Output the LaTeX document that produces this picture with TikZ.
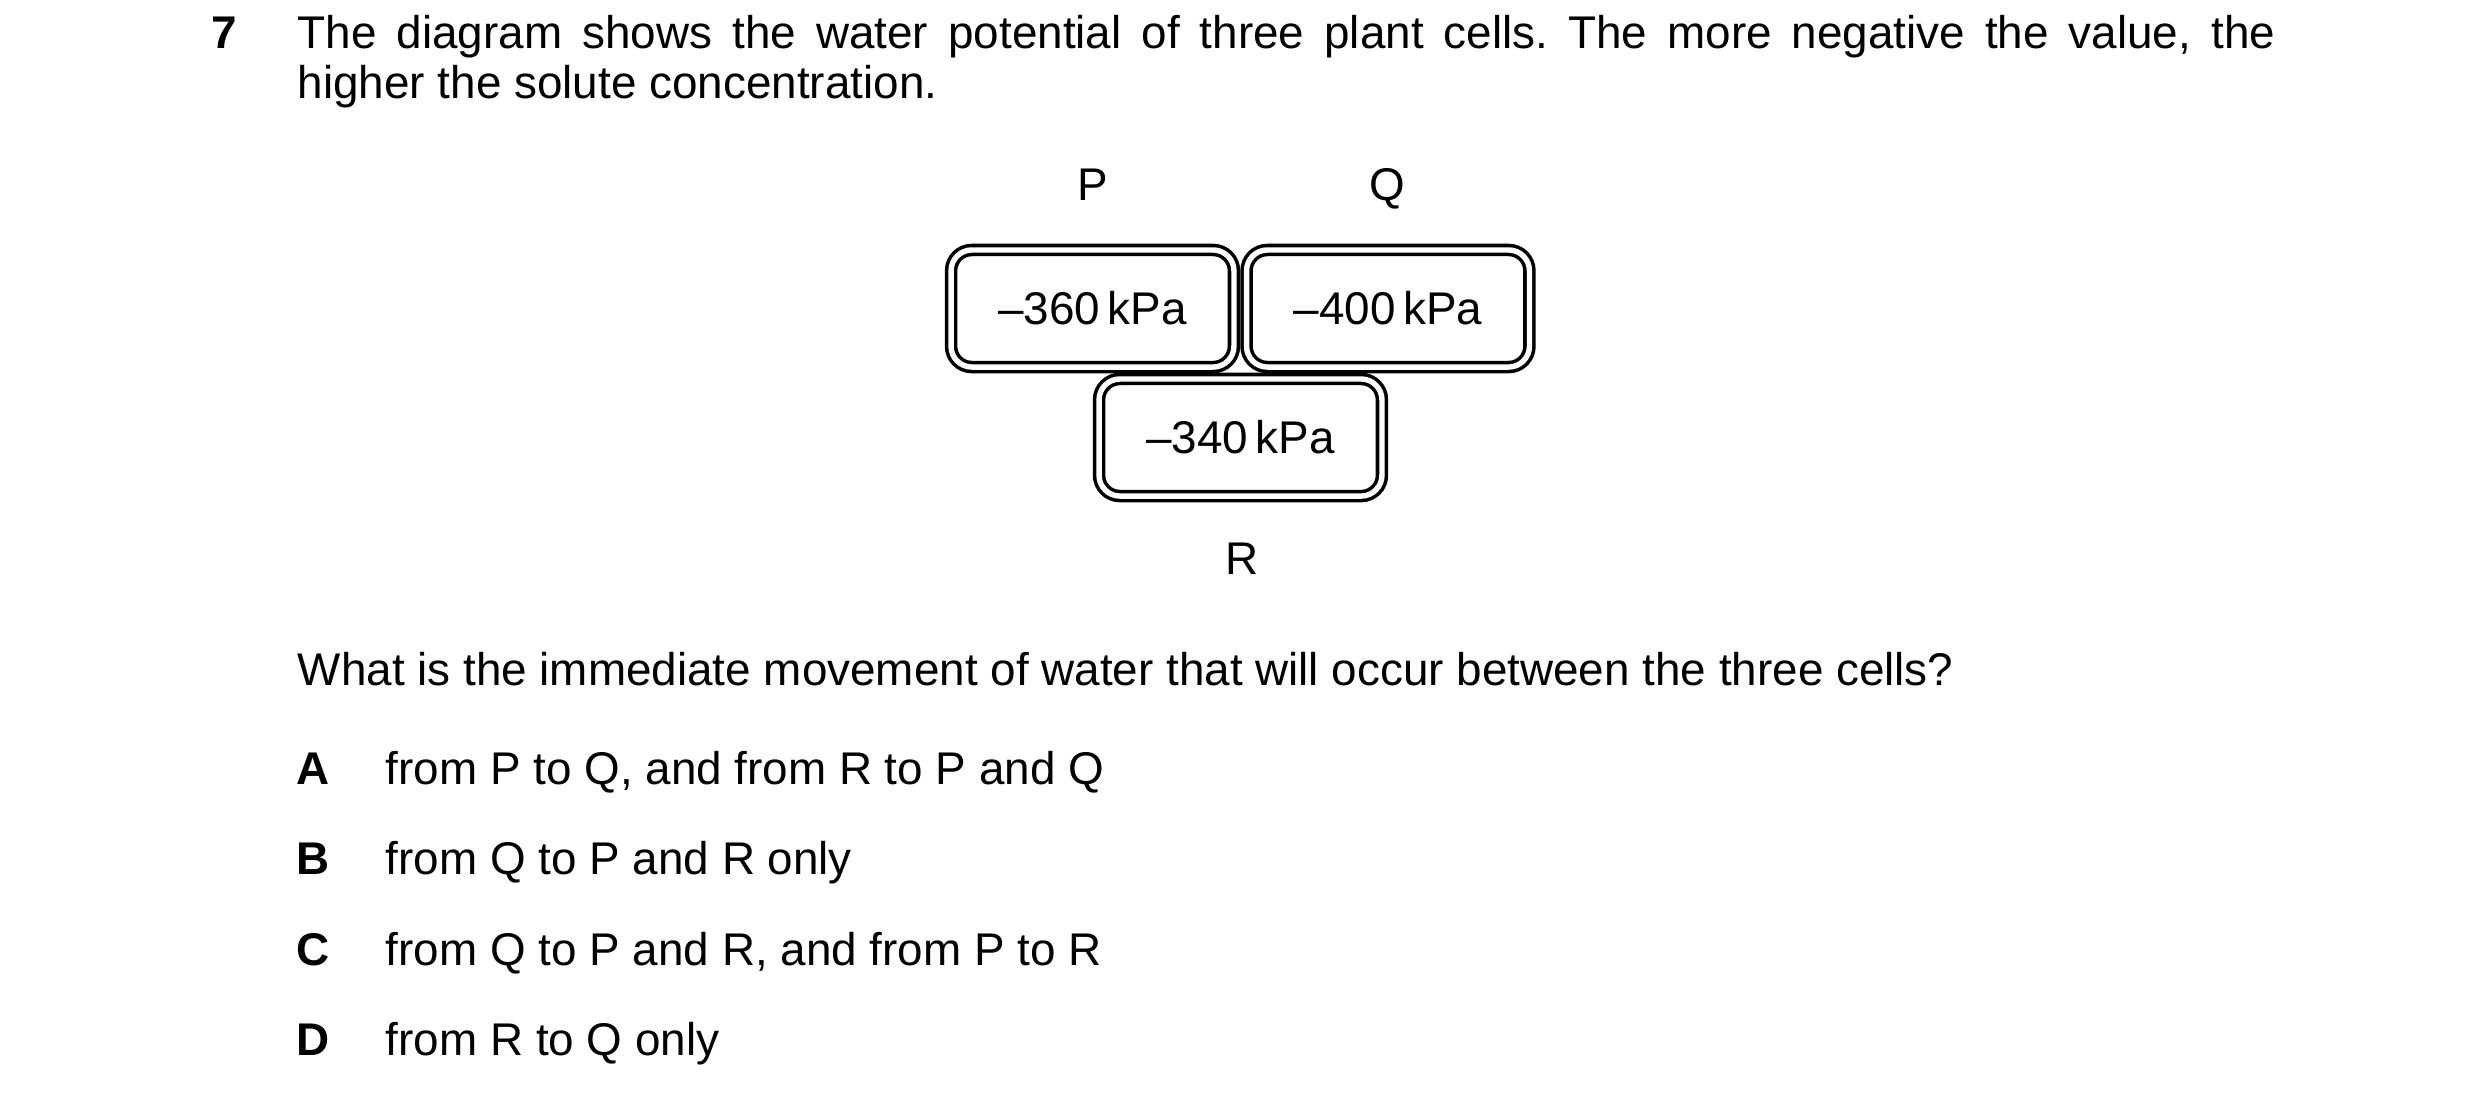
\documentclass[tikz,border=0pt]{standalone}
\usepackage{fontspec}
\setmainfont{Liberation Sans}
\newcommand\qsize{\fontsize{11pt}{12.5pt}\selectfont\frenchspacing}
\begin{document}
\begin{tikzpicture}[x=0.24pt,y=-0.24pt,
  every node/.style={font=\qsize},
  cell/.style={draw=black, double=white, double distance=1.3pt, line width=0.85pt,
    rounded corners=5pt, minimum width=67.9pt, minimum height=28.1pt, inner sep=0pt},
  lbl/.style={anchor=base, inner sep=0pt},
  txt/.style={anchor=base west, inner sep=0pt},
  bold/.style={anchor=base west, inner sep=0pt, font=\qsize\bfseries}]
\useasboundingbox (0,0) rectangle (2480,1104);
\node[bold] (num) at (211,48) {7};
\node[txt] (l1) at (297,48) {\makebox[474.6pt][s]{The diagram shows the water potential of three plant cells. The more negative the value, the}};
\node[txt] (l2) at (297,98) {higher the solute concentration.};
\node[lbl] (pl) at (1093,200) {P};
\node[lbl] (ql) at (1387,200) {Q};
\node[cell] (P) at (1092.5,308.5) {–360\,kPa};
\node[cell] (Q) at (1388,308.5) {–400\,kPa};
\node[cell] (R) at (1240.5,437.5) {–340\,kPa};
\node[lbl] (rl) at (1242,574) {R};
\node[txt] (qn) at (297,685) {What is the immediate movement of water that will occur between the three cells?};
\node[bold] (oa) at (296,784) {A};
\node[txt] (ta) at (385,784) {from P to Q, and from R to P and Q};
\node[bold] (ob) at (296,874) {B};
\node[txt] (tb) at (385,874) {from Q to P and R only};
\node[bold] (oc) at (296,965) {C};
\node[txt] (tc) at (385,965) {from Q to P and R, and from P to R};
\node[bold] (od) at (296,1055) {D};
\node[txt] (td) at (385,1055) {from R to Q only};
\end{tikzpicture}
\end{document}
